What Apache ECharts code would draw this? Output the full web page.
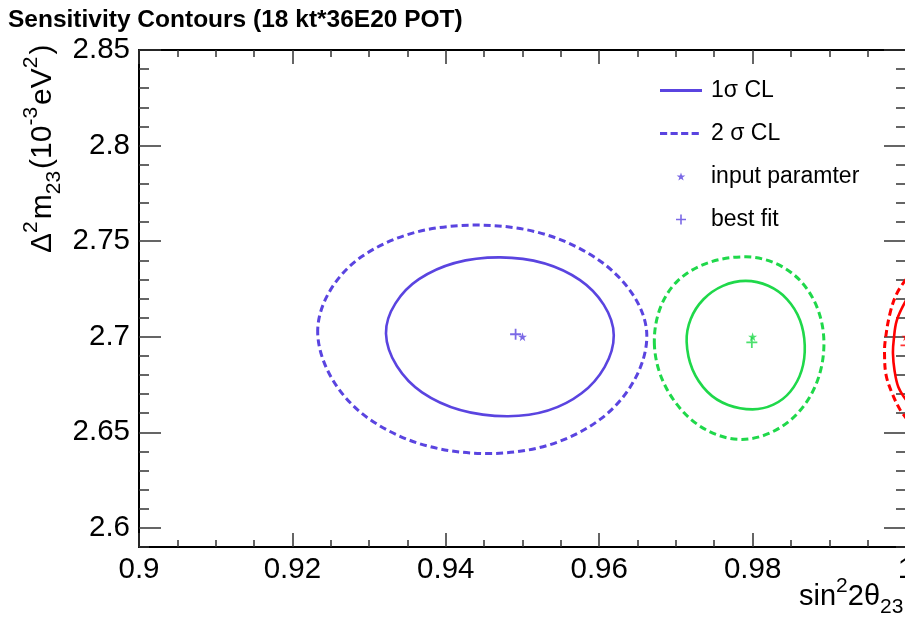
<!DOCTYPE html>
<html>
<head>
<meta charset="utf-8">
<script src="https://cdn.jsdelivr.net/npm/echarts@6/dist/echarts.min.js"></script>
<style>
  html, body { margin: 0; padding: 0; background: #fff; }
  #chart { width: 905px; height: 617px; }
</style>
</head>
<body>
<div id="chart"></div>
<script>
// Tick values of both axes
const xTicks = [0.9, 0.92, 0.94, 0.96, 0.98, 1];
const yTicks = [2.6, 2.65, 2.7, 2.75, 2.8, 2.85];

// Contour points as [sin^2 2theta23, dm^2_23 (1e-3 eV^2)]
// closed contours: left, upper-left, top, upper-right, right, lower-right, bottom, lower-left
const blue1Sigma = [
  [0.9322, 2.7017], [0.9365, 2.7301], [0.9471, 2.7415], [0.9575, 2.7296],
  [0.9619, 2.7008], [0.9577, 2.6704], [0.9480, 2.6584], [0.9369, 2.6709]
];
const blue2Sigma = [
  [0.9233, 2.7017], [0.9291, 2.7421], [0.9442, 2.7584], [0.9594, 2.7416],
  [0.9662, 2.7017], [0.9603, 2.6573], [0.9455, 2.6389], [0.9299, 2.6573]
];
const green1Sigma = [
  [0.9714, 2.6973], [0.9736, 2.7196], [0.9791, 2.7292], [0.9845, 2.7196],
  [0.9868, 2.6955], [0.9849, 2.6712], [0.9800, 2.6620], [0.9741, 2.6712]
];
const green2Sigma = [
  [0.9672, 2.6955], [0.9702, 2.7291], [0.9791, 2.7418], [0.9864, 2.7285],
  [0.9893, 2.6955], [0.9861, 2.6610], [0.9786, 2.6463], [0.9710, 2.6605]
];
// open arcs, cut by the sin^2 2theta = 1 edge
const red1Sigma = [
  [1.0000, 2.7190], [0.9988, 2.7086], [0.9984, 2.6982], [0.9983, 2.6912],
  [0.9985, 2.6825], [0.9990, 2.6737], [1.0000, 2.6670]
];
const red2Sigma = [
  [1.0000, 2.7300], [0.9988, 2.7226], [0.9979, 2.7120], [0.9973, 2.6982],
  [0.9972, 2.6912], [0.9974, 2.6800], [0.9982, 2.6703], [0.9992, 2.6620], [1.0000, 2.6575]
];

// Input parameters and best-fit points, one per contour set (blue, green, red)
const inputPoints = [[0.95, 2.70], [0.98, 2.70], [1.0, 2.70]];
const bestFitPoints = [[0.9491, 2.7013], [0.9799, 2.6970], [1.0, 2.6955]];

const COLORS = ['#5a44e0', '#1fd84a', '#ff0000'];
const FONT = '"Liberation Sans", Arial, Helvetica, sans-serif';

const STAR = 'path://M50,0L61.8,35.3L99,35.3L68.8,57.1L80.3,92.4L50,70.6L19.7,92.4L31.2,57.1L1,35.3L38.2,35.3Z';
const STAR_LEGEND = 'path://M-8,-11M108,103M50,0L61.8,35.3L99,35.3L68.8,57.1L80.3,92.4L50,70.6L19.7,92.4L31.2,57.1L1,35.3L38.2,35.3Z';
const PLUS = 'path://M42,0H58V42H100V58H58V100H42V58H0V42H42Z';
const LINE_SOLID = 'path://M0,0H41V2.8H0Z';
const LINE_DASHED = 'path://M0,0M41,2.8M0,0H7V2.8H0ZM10.3,0H17.3V2.8H10.3ZM20.6,0H27.6V2.8H20.6ZM30.9,0H37.9V2.8H30.9Z';

const chart = echarts.init(document.getElementById('chart'), null, { renderer: 'canvas' });

// One contour drawn as a smooth closed (or open) curve through the axis scales
function contour(name, pts, color, dashed, closed) {
  return {
    name: name,
    type: 'custom',
    coordinateSystem: 'cartesian2d',
    xAxisIndex: 0,
    yAxisIndex: 0,
    data: pts,
    clip: true,
    itemStyle: { color: color },
    z: 3,
    renderItem: function (params, api) {
      if (params.dataIndex !== 0) return null;
      const points = pts.map(p => api.coord(p));
      return {
        type: closed ? 'polygon' : 'polyline',
        silent: true,
        shape: { points: points, smooth: 0.37 },
        style: {
          fill: 'none',
          stroke: color,
          lineWidth: dashed ? 3 : 2.6,
          lineDash: dashed ? [7, 4] : null
        }
      };
    }
  };
}

function markers(name, points, symbol, size) {
  return {
    name: name,
    type: 'scatter',
    symbol: symbol,
    symbolSize: size,
    clip: true,
    itemStyle: { color: COLORS[0] },
    data: points.map((p, i) => ({ value: p, itemStyle: { color: COLORS[i] } })),
    z: 4
  };
}

const tickStyle = { color: '#333', width: 1.5 };
const frameLine = { show: true, onZero: false, lineStyle: { color: '#000', width: 2 } };

function xAxisDef(position, major) {
  return {
    type: 'value', min: 0.9, max: 1.0, position: position,
    interval: major ? 0.02 : 0.005,
    axisLine: major ? frameLine : { show: false },
    axisTick: major
      ? { show: true, inside: true, length: 14, customValues: xTicks, lineStyle: tickStyle }
      : { show: true, inside: true, length: 7, lineStyle: tickStyle },
    axisLabel: (major && position === 'bottom')
      ? { show: true, customValues: xTicks, fontSize: 29.5, fontFamily: FONT, color: '#000', margin: 8 }
      : { show: false },
    splitLine: { show: false }
  };
}

function yAxisDef(position, major) {
  return {
    type: 'value', min: 2.59, max: 2.85, position: position,
    interval: major ? 0.05 : 0.01,
    axisLine: major ? frameLine : { show: false },
    axisTick: major
      ? { show: true, inside: true, length: 22, customValues: yTicks, lineStyle: tickStyle }
      : { show: true, inside: true, length: 10, lineStyle: tickStyle },
    axisLabel: (major && position === 'left')
      ? { show: true, customValues: yTicks, fontSize: 29.5, fontFamily: FONT, color: '#000', margin: 9 }
      : { show: false },
    splitLine: { show: false }
  };
}

const richXTitle = {
  m: { fontSize: 29, fontFamily: FONT, lineHeight: 42, fill: '#000' },
  sup: { fontSize: 21, fontFamily: FONT, lineHeight: 21, verticalAlign: 'top', fill: '#000' },
  sub: { fontSize: 21, fontFamily: FONT, lineHeight: 21, verticalAlign: 'bottom', fill: '#000' }
};
const richYTitle = {
  m: { fontSize: 30, fontFamily: FONT, lineHeight: 44, fill: '#000' },
  sup: { fontSize: 21, fontFamily: FONT, lineHeight: 21, verticalAlign: 'top', fill: '#000', padding: [0, 2, 0, 0] },
  sub: { fontSize: 21, fontFamily: FONT, lineHeight: 21, verticalAlign: 'bottom', fill: '#000', padding: [0, 2, 0, 0] }
};

const option = {
  animation: false,
  backgroundColor: '#fff',
  title: {
    text: 'Sensitivity Contours (18 kt*36E20 POT)',
    left: 8, top: 8, padding: 0,
    textStyle: { fontSize: 24.5, fontWeight: 'bold', fontFamily: FONT, color: '#000' }
  },
  grid: {
    left: 139, top: 50, width: 767, height: 497,
    containLabel: false, outerBoundsMode: 'none'
  },
  xAxis: [
    xAxisDef('bottom', true), xAxisDef('bottom', false),
    xAxisDef('top', true), xAxisDef('top', false)
  ],
  yAxis: [
    yAxisDef('left', true), yAxisDef('left', false),
    yAxisDef('right', true), yAxisDef('right', false)
  ],
  legend: {
    data: [
      { name: '1σ CL', icon: LINE_SOLID },
      { name: '2 σ CL', icon: LINE_DASHED },
      { name: 'input paramter', icon: STAR_LEGEND },
      { name: 'best fit', icon: PLUS }
    ],
    orient: 'vertical',
    left: 660, top: 79, padding: 0,
    itemWidth: 42, itemHeight: 10, itemGap: 20,
    selectedMode: false,
    textStyle: { fontSize: 23, lineHeight: 22, fontFamily: FONT, color: '#000', padding: [0, 0, 0, 4] }
  },
  series: [
    contour('1σ CL', blue1Sigma, COLORS[0], false, true),
    contour('2 σ CL', blue2Sigma, COLORS[0], true, true),
    contour('0.98 1σ', green1Sigma, COLORS[1], false, true),
    contour('0.98 2σ', green2Sigma, COLORS[1], true, true),
    contour('1.0 1σ', red1Sigma, COLORS[2], false, false),
    contour('1.0 2σ', red2Sigma, COLORS[2], true, false),
    markers('input paramter', inputPoints, STAR, 9),
    markers('best fit', bestFitPoints, PLUS, 11)
  ],
  graphic: [
    {
      type: 'text', x: 799, y: 597,
      style: {
        text: '{m|sin}{sup|2}{m|2θ}{sub|23}',
        align: 'left', verticalAlign: 'middle', fill: '#000',
        rich: richXTitle
      }
    },
    {
      type: 'text', x: 43, y: 253, rotation: Math.PI / 2,
      style: {
        text: '{m|Δ}{sup|2}{m|m}{sub|23}{m|(10}{sup|-3}{m|eV}{sup|2}{m|)}',
        align: 'left', verticalAlign: 'middle', fill: '#000',
        rich: richYTitle
      }
    }
  ]
};

chart.setOption(option);
</script>
</body>
</html>
